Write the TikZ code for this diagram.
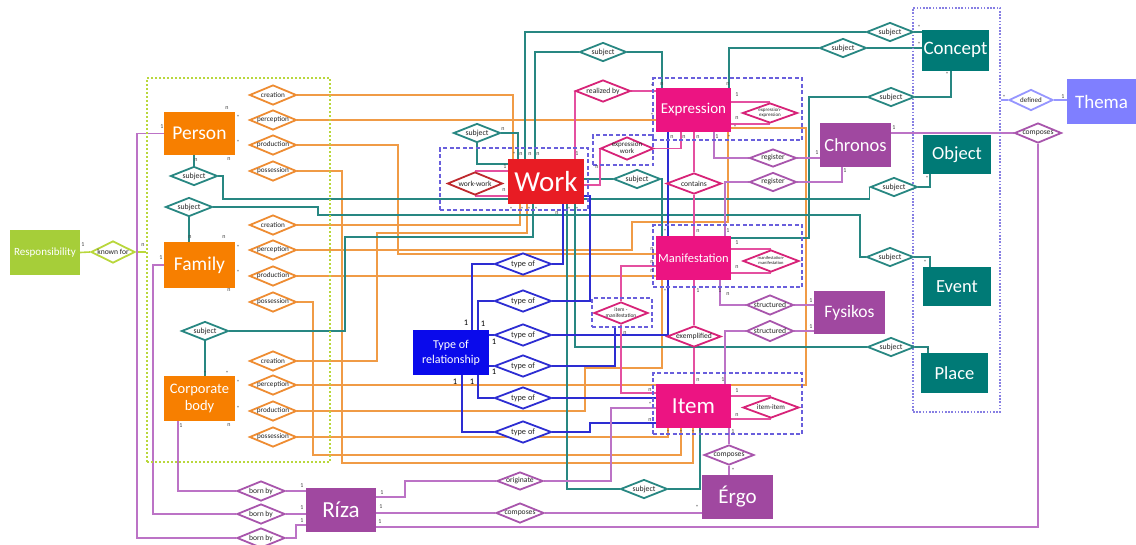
\documentclass[tikz,border=0pt]{standalone}
\usepackage{fontspec}
\setmainfont{Carlito}
\usetikzlibrary{shapes.geometric}
\pgfdeclarelayer{bg}
\pgfsetlayers{bg,main}
\newcommand{\fsz}[1]{\fontsize{#1}{#1}\selectfont}
\newcommand{\rl}[1]{\makebox[0pt][c]{#1}}
\newcommand{\rlt}[1]{\makebox[0pt][c]{\begin{tabular}{@{}c@{}}#1\end{tabular}}}
\definecolor{cOrF}{RGB}{247,127,0}
\definecolor{cOrL}{RGB}{240,155,70}
\definecolor{cOrD}{RGB}{238,140,50}
\definecolor{cTeF}{RGB}{0,122,118}
\definecolor{cTeL}{RGB}{40,135,130}
\definecolor{cMaF}{RGB}{236,20,130}
\definecolor{cMaL}{RGB}{228,80,160}
\definecolor{cMaD}{RGB}{215,35,120}
\definecolor{cPuF}{RGB}{160,72,160}
\definecolor{cPuL}{RGB}{188,115,198}
\definecolor{cPuD}{RGB}{168,85,172}
\definecolor{cBlF}{RGB}{10,10,235}
\definecolor{cBlL}{RGB}{45,45,210}
\definecolor{cRed}{RGB}{232,28,36}
\definecolor{cRedD}{RGB}{190,40,45}
\definecolor{cGrF}{RGB}{166,206,57}
\definecolor{cGrL}{RGB}{185,215,60}
\definecolor{cTh}{RGB}{127,127,255}
\definecolor{cThL}{RGB}{150,150,255}
\definecolor{cGrp}{RGB}{105,95,220}
\begin{document}
\begin{tikzpicture}[x=1pt,y=-1pt,
  ent/.style={rectangle, fill=#1, text=white, inner sep=0pt, align=center},
  dia/.style={diamond, draw=#1, fill=white, line width=1.8pt, inner sep=0pt, text=black!85},
  dsz/.style 2 args={minimum width=#1pt, minimum height=#2pt},
  odia/.style={dia=cOrD, dsz={47}{20}, font=\fsz{7.2}},
  tdia/.style={dia=cTeL, dsz={47}{19}, font=\fsz{7.8}},
  bdia/.style={dia=cBlL, dsz={57}{22}, font=\fsz{8.3}},
  pdia/.style={dia=cPuD, font=\fsz{7.6}},
  mdia/.style={dia=cMaD, font=\fsz{7.6}},
  grpB/.style={rectangle, draw=cGrp, dash pattern=on 4pt off 2.5pt, line width=1.2pt, inner sep=0pt},
  grpC/.style={rectangle, draw=cGrp!80, dash pattern=on 1.6pt off 1.6pt, line width=1.3pt, inner sep=0pt},
  grpG/.style={rectangle, draw=cGrL, dash pattern=on 2pt off 2pt, line width=1.3pt, inner sep=0pt},
  card/.style={font=\fsz{6}, inner sep=0.5pt, text=black!75},
  cardB/.style={font=\fsz{8.5}, inner sep=0.5pt, text=black},
  lnO/.style={draw=cOrL, line width=1.6pt},
  lnT/.style={draw=cTeL, line width=1.6pt},
  lnM/.style={draw=cMaL, line width=1.6pt},
  lnP/.style={draw=cPuL, line width=1.6pt},
  lnB/.style={draw=cBlL, line width=1.6pt},
  lnG/.style={draw=cGrL, line width=1.6pt},
  lnL/.style={draw=cThL, line width=1.6pt},
]
\useasboundingbox (0,0) rectangle (1136,544);

% ---------- group boxes ----------
\node[grpG, minimum width=183pt, minimum height=384pt] (ggreen) at (238.5,270) {};
\node[grpC, minimum width=87pt, minimum height=404pt] (gconcept) at (956.5,210) {};
\node[grpB, minimum width=148pt, minimum height=62pt] (gwork) at (514,179) {};
\node[grpB, minimum width=149pt, minimum height=62pt] (gexpr) at (727.5,109) {};
\node[grpB, minimum width=60pt, minimum height=30pt] (gew) at (623,150) {};
\node[grpB, minimum width=149pt, minimum height=62pt] (gmanif) at (727.5,256) {};
\node[grpB, minimum width=60pt, minimum height=29pt] (gim) at (622,312.5) {};
\node[grpB, minimum width=149pt, minimum height=61pt] (gitem) at (727.5,403.5) {};

% ---------- entities ----------
\node[ent=cGrF, dsz={70}{45}, font=\fsz{11}] (resp) at (45,252.5) {Responsibility};
\node[ent=cOrF, dsz={71}{43}, font=\fsz{19.5}] (person) at (199.5,133.5) {Person};
\node[ent=cOrF, dsz={71}{46}, font=\fsz{19.5}] (family) at (199.5,265) {Family};
\node[ent=cOrF, dsz={71}{45}, font=\fontsize{14.5}{17}\selectfont] (corp) at (199.5,398.5) {Corporate\\body};
\node[ent=cBlF, dsz={76}{45}, font=\fontsize{12}{15}\selectfont] (tr) at (451,352.5) {Type of\\relationship};
\node[ent=cRed, dsz={76}{45}, font=\fsz{29}] (work) at (546,181.5) {Work};
\node[ent=cMaF, dsz={75}{44}, font=\fsz{15}] (expr) at (693.5,110) {Expression};
\node[ent=cMaF, dsz={75}{44}, font=\fsz{12.5}] (manif) at (693.5,258) {Manifestation};
\node[ent=cMaF, dsz={75}{44}, font=\fsz{23}] (item) at (693.5,406) {Item};
\node[ent=cPuF, dsz={71}{44}, font=\fsz{18.5}] (chronos) at (855.5,145) {Chronos};
\node[ent=cPuF, dsz={71}{43}, font=\fsz{17.5}] (fysikos) at (849.5,312.5) {Fysikos};
\node[ent=cPuF, dsz={70}{44}, font=\fsz{23}] (riza) at (341,510) {Ríza};
\node[ent=cPuF, dsz={71}{44}, font=\fsz{21}] (ergo) at (737.5,497) {Érgo};
\node[ent=cTeF, dsz={67}{41}, font=\fsz{19}] (concept) at (955.5,50) {Concept};
\node[ent=cTeF, dsz={68}{39}, font=\fsz{18.5}] (object) at (957,154.5) {Object};
\node[ent=cTeF, dsz={68}{39}, font=\fsz{18.5}] (event) at (957,286.5) {Event};
\node[ent=cTeF, dsz={67}{40}, font=\fsz{18.5}] (place) at (954.5,373) {Place};
\node[ent=cTh, dsz={69}{45}, font=\fsz{19}] (thema) at (1101.5,101.5) {Thema};

% ---------- relation diamonds ----------
\node[dia=cGrL, dsz={44}{22}, font=\fsz{7.6}] (kf) at (113,252) {\rl{known for}};
% person group
\node[odia] (pc)  at (273,95)  {\rl{creation}};
\node[odia] (pp)  at (273,120) {\rl{perception}};
\node[odia] (ppr) at (273,145) {\rl{production}};
\node[odia] (pps) at (273,171) {\rl{possession}};
\node[odia] (fc)  at (273,225) {\rl{creation}};
\node[odia] (fp)  at (273,250) {\rl{perception}};
\node[odia] (fpr) at (273,276) {\rl{production}};
\node[odia] (fps) at (273,302) {\rl{possession}};
\node[odia] (cc)  at (273,361) {\rl{creation}};
\node[odia] (cpe) at (273,385) {\rl{perception}};
\node[odia] (cpr) at (273,411) {\rl{production}};
\node[odia] (cps) at (273,437) {\rl{possession}};
% subjects
\node[tdia] (psub) at (194,176) {\rl{subject}};
\node[tdia] (fsub) at (189,207) {\rl{subject}};
\node[tdia] (csub) at (205,331) {\rl{subject}};
\node[tdia] (wsub) at (477,133) {\rl{subject}};
\node[tdia] (ws2)  at (603,52)  {\rl{subject}};
\node[tdia] (ws3)  at (637,179) {\rl{subject}};
\node[tdia] (isub) at (644,489) {\rl{subject}};
\node[tdia] (cs1)  at (890,32)  {\rl{subject}};
\node[tdia] (cs2)  at (843,48)  {\rl{subject}};
\node[tdia] (cs3)  at (891,97)  {\rl{subject}};
\node[tdia] (osub) at (894,187) {\rl{subject}};
\node[tdia] (esub) at (890,257) {\rl{subject}};
\node[tdia] (psb)  at (891,347) {\rl{subject}};
% type of
\node[bdia] (to1) at (523,264) {\rl{type of}};
\node[bdia] (to2) at (523,301) {\rl{type of}};
\node[bdia] (to3) at (523,335) {\rl{type of}};
\node[bdia] (to4) at (523,366) {\rl{type of}};
\node[bdia] (to5) at (523,398) {\rl{type of}};
\node[bdia] (to6) at (523,432) {\rl{type of}};
% magenta
\node[dia=cRedD, dsz={55}{23}, font=\fsz{7.6}] (ww) at (475,183.5) {\rl{work-work}};
\node[mdia, dsz={55}{22}] (rb) at (603,91) {\rl{realized by}};
\node[mdia, dsz={53}{23}, font=\fontsize{7}{7.5}\selectfont] (ew) at (627,148.5) {\rlt{expression\\work}};
\node[mdia, dsz={55}{21}] (cont) at (694,183.5) {\rl{contains}};
\node[mdia, dsz={55}{20}, font=\fontsize{5}{5.5}\selectfont] (ee) at (770,113) {\rlt{expression-\\expression}};
\node[mdia, dsz={56}{22}, font=\fontsize{4.5}{5}\selectfont] (mm) at (771,261) {\rlt{manifestation-\\manifestation}};
\node[mdia, dsz={54}{22}, font=\fontsize{5.5}{6}\selectfont] (im) at (621,313) {\rlt{item -\\manifestation}};
\node[mdia, dsz={54}{21}] (ex) at (694,336.5) {\rl{exemplified}};
\node[mdia, dsz={56}{21}, font=\fsz{7}] (ii) at (771,407.5) {\rl{item-item}};
% purple
\node[pdia, dsz={48}{20}] (bb1) at (261,491) {\rl{born by}};
\node[pdia, dsz={48}{20}] (bb2) at (261,514) {\rl{born by}};
\node[pdia, dsz={48}{20}] (bb3) at (261,538) {\rl{born by}};
\node[pdia, dsz={46}{18}] (orig) at (520,481) {\rl{originate}};
\node[pdia, dsz={48}{20}] (comp1) at (520,513) {\rl{composes}};
\node[pdia, dsz={50}{20}] (comp3) at (729,455) {\rl{composes}};
\node[pdia, dsz={47}{20}] (comp2) at (1038,133) {\rl{composes}};
\node[pdia, dsz={47}{18}] (reg1) at (773,158) {\rl{register}};
\node[pdia, dsz={47}{19}] (reg2) at (773,182) {\rl{register}};
\node[pdia, dsz={47}{20}] (str1) at (770,305) {\rl{structured}};
\node[pdia, dsz={47}{21}] (str2) at (770,331) {\rl{structured}};
\node[dia=cThL, dsz={44}{21}, font=\fsz{7}] (def) at (1031,100) {\rl{defined}};

% ---------- cardinalities ----------
\foreach \a/\b/\t [count=\i] in {466/323/1, 483/324/1, 494/342/1, 494/372/1, 455/382/1, 472/382/1}
  \node[cardB] (kb\i) at (\a,\b) {\t};
\foreach \a/\b/\t [count=\i] in {
  302/486/1, 302/508/1, 302/521/1, 382/493/1, 381/507/1, 380/522/1,
  894/128/1, 817/153/1, 845/171/1, 811/301/1, 811/327/1, 1063/97/1, 1004/97/*,
  737/95/1, 737/118/n, 737/243/1, 737/267/n, 737/391/1, 737/415/n, 505/167/1, 504/190/n,
  503/129/n, 514/154/*, 521/154/n, 530/154/n, 538/154/n, 577/154/1, 597/167/n, 557/213/n,
  511/209/*, 522/209/*, 529/209/*, 536/209/*, 569/209/*, 577/209/*,
  662/84/n, 728/84/n, 652/86/*, 652/115/*, 672/137/n, 684/137/n, 698/137/n, 717/137/1, 729/137/*, 735/127/*,
  665/231/*, 698/231/n, 728/231/1, 652/249/n, 652/262/n, 652/271/n, 665/291/*, 698/291/1, 720/291/1, 728/294/n,
  698/380/n, 723/380/1, 650/390/n, 650/404/*, 650/420/n, 668/432/*, 681/432/*, 693/432/*, 700/432/*, 733/432/1,
  919/27/*, 919/44/*, 947/74/*, 927/178/*, 925/262/*, 928/350/*, 733/470/*, 697/507/*,
  162/127/1, 227/108/n, 238/117/*, 238/142/*, 229/159/n, 196/160/n,
  161/258/1, 190/237/n, 224/237/n, 238/247/*, 238/272/*, 229/290/n,
  205/373/*, 227/373/*, 238/382/*, 238/408/*, 229/425/n, 181/426/1,
  83/245/1, 143/245/n, 625/333/n}
  \node[card] (kc\i) at (\a,\b) {\t};

% ---------- connectors ----------
\begin{pgfonlayer}{bg}
% green / light purple
\draw[lnG] (resp.east) -- (kf.west);
\draw[lnG] (kf.east) -- (kf.east -| ggreen.west);
\draw[lnL] (gconcept.east |- def.west) -- (def.west);
\draw[lnL] (def.east) -- (def.east -| thema.west);

% orange
\draw[lnO] (pc.east) -| (work.north -| 513,0);
\draw[lnO] (pp.east) -- (pp.east -| expr.west);
\draw[lnO] (ppr.east) -| (398,254) -- (manif.west |- 0,254);
\draw[lnO] (pps.east) -| (342,463) -| (item.south -| 693,0);
\draw[lnO] (fc.east) -| (work.south -| 520,0);
\draw[lnO] (fp.east) -| (632,222) -| (expr.south -| 728,0);
\draw[lnO] (fpr.east) -- (fpr.east -| manif.west);
\draw[lnO] (fps.east) -| (313,455) -| (item.south -| 681,0);
\draw[lnO] (cc.east) -| (377,233) -| (work.south -| 527,0);
\draw[lnO] (cpe.east) -| (806,128) -- (expr.east |- 0,128);
\draw[lnO] (cpr.east) -| (585,368) -| (manif.south -| 662,0);
\draw[lnO] (cps.east) -| (item.south -| 668,0);

% teal
\draw[lnT] (person.south -| 194,0) -- (psub.north);
\draw[lnT] (psub.east) -| (223,199) -- (osub.west |- 0,199) -- (osub.west);
\draw[lnT] (osub.east) -| (object.south -| 930,0);
\draw[lnT] (fsub.south) -- (family.north -| 189,0);
\draw[lnT] (fsub.east) -| (318,215) -- (860,215) |- (esub.west);
\draw[lnT] (esub.east) -| (event.north -| 930,0);
\draw[lnT] (csub.south) -- (corp.north -| 205,0);
\draw[lnT] (csub.east) -| (345,237) -| (work.south -| 533,0);
\draw[lnT] (wsub.east) -| (work.north -| 518,0);
\draw[lnT] (wsub.south) |- (work.west |- 0,164);
\draw[lnT] (work.north -| 525,0) |- (cs1.west);
\draw[lnT] (cs1.east) -- (cs1.east -| concept.west);
\draw[lnT] (work.north -| 535,0) |- (ws2.west);
\draw[lnT] (ws2.east) -| (expr.north -| 662,0);
\draw[lnT] (expr.north -| 729,0) |- (cs2.west);
\draw[lnT] (cs2.east) -- (cs2.east -| concept.west);
\draw[lnT] (manif.east |- 0,238) -| (809,97) -- (cs3.west);
\draw[lnT] (cs3.east) -| (concept.south -| 951,0);
\draw[lnT] (work.east |- ws3.west) -- (ws3.west);
\draw[lnT] (ws3.east) -| (manif.north -| 662,0);
\draw[lnT] (work.south -| 567,0) |- (isub.west);
\draw[lnT] (isub.east) -| (item.south -| 700,0);
\draw[lnT] (work.south -| 575,0) |- (psb.west);
\draw[lnT] (psb.east) -| (place.north -| 928,0);

% blue
\draw[lnB] (to1.west) -| (tr.north -| 472,0);
\draw[lnB] (to1.east) -| (work.south -| 563,0);
\draw[lnB] (to2.west) -| (tr.north -| 478,0);
\draw[lnB] (to2.east) -| (590,196) -- (work.east |- 0,196);
\draw[lnB] (tr.east |- to3.west) -- (to3.west);
\draw[lnB] (to3.east) -| (expr.south -| 668,0);
\draw[lnB] (tr.east |- to4.west) -- (to4.west);
\draw[lnB] (to4.east) -| (gim.south -| 615,0);
\draw[lnB] (to5.west) -| (tr.south -| 478,0);
\draw[lnB] (to5.east) -- (to5.east -| item.west);
\draw[lnB] (to6.west) -| (tr.south -| 462,0);
\draw[lnB] (to6.east) -| (590,423) -- (item.west |- 0,423);

% magenta
\draw[lnM] (work.north -| 575,0) |- (rb.west);
\draw[lnM] (rb.east) -- (rb.east -| expr.west);
\draw[lnM] (ww.north) -- (ww.north -| work.west);
\draw[lnM] (ww.south) -- (ww.south -| work.west);
\draw[lnM] (expr.south -| 681,0) |- (ew.east);
\draw[lnM] (ew.west) -| (600,185) -- (work.east |- 0,185);
\draw[lnM] (expr.south -| cont.north) -- (cont.north);
\draw[lnM] (cont.south) -- (cont.south |- manif.north);
\draw[lnM] (manif.south -| ex.north) -- (ex.north);
\draw[lnM] (ex.south) -- (ex.south |- item.north);
\draw[lnM] (ee.north) -- (ee.north -| expr.east);
\draw[lnM] (ee.south) -- (ee.south -| expr.east);
\draw[lnM] (mm.north) -- (mm.north -| manif.east);
\draw[lnM] (mm.south) -- (mm.south -| manif.east);
\draw[lnM] (ii.north) -- (ii.north -| item.east);
\draw[lnM] (ii.south) -- (ii.south -| item.east);
\draw[lnM] (im.north) |- (manif.west |- 0,266);
\draw[lnM] (im.south) |- (item.west |- 0,393);

% purple
\draw[lnP] (person.west) -| (137,538) -- (bb3.west);
\draw[lnP] (family.west) -| (153,514) -- (bb2.west);
\draw[lnP] (corp.south -| 178,0) |- (bb1.west);
\draw[lnP] (bb1.east) -- (bb1.east -| riza.west);
\draw[lnP] (bb2.east) -- (bb2.east -| riza.west);
\draw[lnP] (bb3.east) -| (296,525) -- (riza.west |- 0,525);
\draw[lnP] (riza.east |- 0,497) -| (405,481) -- (orig.west);
\draw[lnP] (orig.east) -| (611,408) -- (item.west |- 0,408);
\draw[lnP] (riza.east |- comp1.west) -- (comp1.west);
\draw[lnP] (comp1.east) -- (comp1.east -| ergo.west);
\draw[lnP] (riza.east |- 0,527) -| (comp2.south);
\draw[lnP] (comp2.west) -- (comp2.west -| chronos.east);
\draw[lnP] (item.south -| 729,0) -- (comp3.north);
\draw[lnP] (comp3.south) -- (comp3.south |- ergo.north);
\draw[lnP] (expr.south -| 714,0) |- (reg1.west);
\draw[lnP] (reg1.east) -- (reg1.east -| chronos.west);
\draw[lnP] (manif.north -| 725,0) |- (reg2.west);
\draw[lnP] (reg2.east) -| (chronos.south -| 842,0);
\draw[lnP] (manif.south -| 720,0) |- (str1.west);
\draw[lnP] (str1.east) -- (str1.east -| fysikos.west);
\draw[lnP] (item.north -| 725,0) |- (str2.west);
\draw[lnP] (str2.east) -- (str2.east -| fysikos.west);
\end{pgfonlayer}
\end{tikzpicture}
\end{document}
